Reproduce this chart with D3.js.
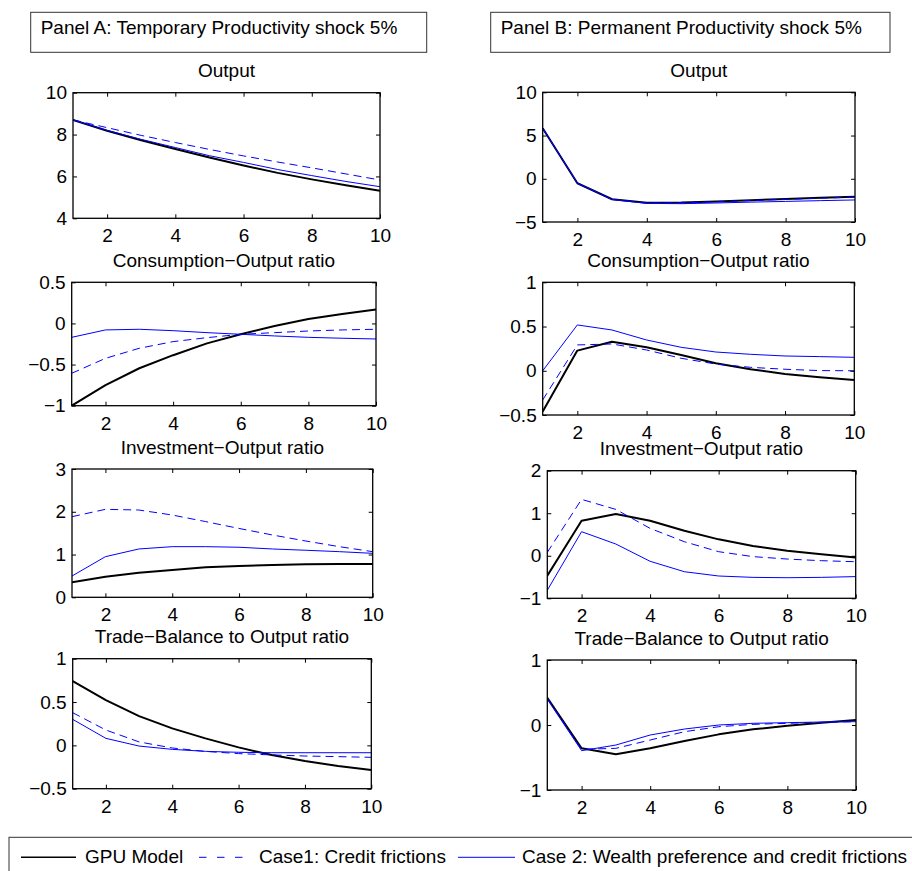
<!DOCTYPE html>
<html><head><meta charset="utf-8">
<script src="https://cdn.jsdelivr.net/npm/d3@7"></script>
<style>
body{margin:0;background:#fff}
svg text{font-family:"Liberation Sans",Arial,Helvetica,sans-serif;font-size:19px;fill:#000}
</style>
</head><body><svg id="c" width="912" height="871"></svg>
<script>
// ---------------- DATA ----------------
const periods = [1, 2, 3, 4, 5, 6, 7, 8, 9, 10];
const xTicks = [2, 4, 6, 8, 10];
const seriesNames = ["GPU Model", "Case1: Credit frictions", "Case 2: Wealth preference and credit frictions"];
const panelTitles = ["Panel A: Temporary Productivity shock 5%", "Panel B: Permanent Productivity shock 5%"];
const variableTitles = ["Output", "Consumption\u2212Output ratio", "Investment\u2212Output ratio", "Trade\u2212Balance to Output ratio"];

// Panel A: temporary shock
const tempOutputGPU   = [8.70, 8.18, 7.73, 7.31, 6.90, 6.52, 6.17, 5.86, 5.58, 5.32];
const tempOutputCase1 = [8.70, 8.33, 7.96, 7.62, 7.29, 6.98, 6.69, 6.41, 6.12, 5.83];
const tempOutputCase2 = [8.70, 8.20, 7.77, 7.38, 6.99, 6.67, 6.33, 6.04, 5.76, 5.51];

const tempConsGPU   = [-1.00, -0.75, -0.545, -0.386, -0.242, -0.132, -0.031, 0.054, 0.115, 0.168];
const tempConsCase1 = [-0.606, -0.424, -0.302, -0.221, -0.173, -0.132, -0.112, -0.092, -0.079, -0.071];
const tempConsCase2 = [-0.169, -0.079, -0.071, -0.088, -0.112, -0.132, -0.152, -0.169, -0.180, -0.189];

const tempInvGPU   = [0.35, 0.48, 0.575, 0.64, 0.70, 0.73, 0.755, 0.77, 0.78, 0.78];
const tempInvCase1 = [1.885, 2.057, 2.041, 1.924, 1.77, 1.61, 1.457, 1.316, 1.184, 1.067];
const tempInvCase2 = [0.498, 0.95, 1.13, 1.184, 1.184, 1.17, 1.13, 1.10, 1.067, 1.028];

const tempTBGPU   = [0.742, 0.523, 0.338, 0.196, 0.081, -0.023, -0.112, -0.181, -0.238, -0.285];
const tempTBCase1 = [0.377, 0.177, 0.04, -0.03, -0.07, -0.095, -0.11, -0.123, -0.13, -0.138];
const tempTBCase2 = [0.30, 0.081, -0.008, -0.046, -0.069, -0.08, -0.085, -0.085, -0.085, -0.085];

// Panel B: permanent shock
const permOutputGPU   = [5.85, -0.52, -2.37, -2.78, -2.75, -2.62, -2.48, -2.33, -2.20, -2.07];
const permOutputCase1 = [5.85, -0.52, -2.38, -2.80, -2.78, -2.66, -2.52, -2.38, -2.25, -2.12];
const permOutputCase2 = [5.85, -0.52, -2.40, -2.85, -2.88, -2.80, -2.70, -2.62, -2.53, -2.45];

const permConsGPU   = [-0.46, 0.228, 0.329, 0.265, 0.179, 0.084, 0.017, -0.036, -0.074, -0.104];
const permConsCase1 = [-0.33, 0.292, 0.303, 0.235, 0.141, 0.076, 0.039, 0.017, 0.002, 0.0];
const permConsCase2 = [0.0, 0.518, 0.461, 0.348, 0.265, 0.212, 0.186, 0.167, 0.160, 0.152];

const permInvGPU   = [-0.47, 0.825, 0.98, 0.825, 0.59, 0.386, 0.23, 0.12, 0.033, -0.04];
const permInvCase1 = [0.08, 1.326, 1.09, 0.644, 0.33, 0.096, -0.02, -0.077, -0.116, -0.14];
const permInvCase2 = [-0.81, 0.566, 0.276, -0.13, -0.375, -0.476, -0.508, -0.516, -0.508, -0.49];

const permTBGPU   = [0.42, -0.359, -0.451, -0.359, -0.246, -0.144, -0.067, -0.01, 0.036, 0.077];
const permTBCase1 = [0.41, -0.374, -0.359, -0.231, -0.103, -0.026, 0.01, 0.026, 0.041, 0.051];
const permTBCase2 = [0.395, -0.395, -0.308, -0.154, -0.062, 0.0, 0.026, 0.036, 0.046, 0.051];

// y-axis tick values
const yTicksTempOutput = [4, 6, 8, 10];
const yTicksTempCons   = [-1, -0.5, 0, 0.5];
const yTicksTempInv    = [0, 1, 2, 3];
const yTicksTempTB     = [-0.5, 0, 0.5, 1];
const yTicksPermOutput = [-5, 0, 5, 10];
const yTicksPermCons   = [-0.5, 0, 0.5, 1];
const yTicksPermInv    = [-1, 0, 1, 2];
const yTicksPermTB     = [-1, 0, 1];

// ---------------- LAYOUT ----------------
const svg = d3.select("#c");
const panels = [
  {box:[73, 380, 92.7, 218.3],   ticks:yTicksTempOutput, title:variableTitles[0], s:[tempOutputGPU, tempOutputCase1, tempOutputCase2]},
  {box:[71.7, 376, 282.3, 405.7], ticks:yTicksTempCons,   title:variableTitles[1], s:[tempConsGPU, tempConsCase1, tempConsCase2]},
  {box:[72, 372.7, 469, 597.3],   ticks:yTicksTempInv,    title:variableTitles[2], s:[tempInvGPU, tempInvCase1, tempInvCase2]},
  {box:[72.7, 371.3, 658.7, 788.7], ticks:yTicksTempTB,   title:variableTitles[3], s:[tempTBGPU, tempTBCase1, tempTBCase2]},
  {box:[542.7, 855, 92.3, 222],   ticks:yTicksPermOutput, title:variableTitles[0], s:[permOutputGPU, permOutputCase1, permOutputCase2]},
  {box:[542.7, 854.3, 282.3, 415], ticks:yTicksPermCons,  title:variableTitles[1], s:[permConsGPU, permConsCase1, permConsCase2]},
  {box:[547.3, 855.7, 470.7, 598.3], ticks:yTicksPermInv, title:variableTitles[2], s:[permInvGPU, permInvCase1, permInvCase2]},
  {box:[547.3, 856, 660, 790],    ticks:yTicksPermTB,     title:variableTitles[3], s:[permTBGPU, permTBCase1, permTBCase2]}
];
const styles = [
  {color:"#000", width:2, dash:null},
  {color:"#0000ff", width:1, dash:"8,5"},
  {color:"#0000ff", width:1, dash:null}
];
const fmt = d3.format("");

function styleAxis(g){
  g.select(".domain").remove();
  g.selectAll("line").attr("stroke","#000").attr("stroke-width",1);
  g.selectAll("text").attr("font-size",null).attr("font-family",null).style("font-size","19px").attr("fill","#000");
  g.attr("font-size",null).attr("font-family",null);
}

panels.forEach((p, idx) => {
  const [x0, x1, y0, y1] = p.box;
  const x = d3.scaleLinear().domain([1, 10]).range([x0, x1]);
  const y = d3.scaleLinear().domain([d3.min(p.ticks), d3.max(p.ticks)]).range([y1, y0]);
  const g = svg.append("g");
  const cid = "clip" + idx;
  g.append("clipPath").attr("id", cid).append("rect")
    .attr("x", x0).attr("y", y0).attr("width", x1 - x0).attr("height", y1 - y0);

  // lines
  const line = d3.line().x((d, i) => x(periods[i])).y(d => y(d));
  p.s.forEach((vals, k) => {
    const st = styles[k];
    g.append("path").attr("clip-path", `url(#${cid})`)
      .attr("d", line(vals)).attr("fill", "none")
      .attr("stroke", st.color).attr("stroke-width", st.width)
      .attr("stroke-dasharray", st.dash).attr("stroke-linejoin","round");
  });

  // axes
  g.append("g").attr("transform", `translate(0,${y1})`)
    .call(d3.axisBottom(x).tickValues(xTicks).tickFormat(fmt).tickSizeInner(-4).tickSizeOuter(0).tickPadding(10.5))
    .call(styleAxis);
  g.append("g").attr("transform", `translate(0,${y0})`)
    .call(d3.axisTop(x).tickValues(xTicks).tickFormat("").tickSizeInner(-4).tickSizeOuter(0))
    .call(styleAxis);
  g.append("g").attr("transform", `translate(${x0},0)`)
    .call(d3.axisLeft(y).tickValues(p.ticks).tickFormat(fmt).tickSizeInner(-4).tickSizeOuter(0).tickPadding(6))
    .call(styleAxis);
  g.append("g").attr("transform", `translate(${x1},0)`)
    .call(d3.axisRight(y).tickValues(p.ticks).tickFormat("").tickSizeInner(-4).tickSizeOuter(0))
    .call(styleAxis);

  g.append("rect").attr("x", x0).attr("y", y0).attr("width", x1 - x0).attr("height", y1 - y0)
    .attr("fill", "none").attr("stroke", "#000").attr("stroke-width", 1.3);

  g.append("text").attr("x", (x0 + x1) / 2).attr("y", y0 - 15.5)
    .attr("text-anchor", "middle").text(p.title);
});

// panel header boxes
const headers = [
  {rect:[30.7, 12.3, 426.7, 52.3], tx:40.7, ty:34.3, text:panelTitles[0]},
  {rect:[490.7, 12.3, 890, 52.3], tx:500.7, ty:34.3, text:panelTitles[1]}
];
headers.forEach(h => {
  svg.append("rect").attr("x", h.rect[0]).attr("y", h.rect[1])
    .attr("width", h.rect[2] - h.rect[0]).attr("height", h.rect[3] - h.rect[1])
    .attr("fill", "#fff").attr("stroke", "#333").attr("stroke-width", 1);
  svg.append("text").attr("x", h.tx).attr("y", h.ty).text(h.text);
});

// legend
const lg = svg.append("g");
lg.append("rect").attr("x", 9).attr("y", 837.3).attr("width", 920).attr("height", 40)
  .attr("fill", "#fff").attr("stroke", "#333").attr("stroke-width", 1);
const legendItems = [
  {l0:21, l1:76, tx:85},
  {l0:199, l1:243, tx:259},
  {l0:458, l1:515, tx:522}
];
legendItems.forEach((it, k) => {
  const st = styles[k];
  lg.append("line").attr("x1", it.l0).attr("x2", it.l1).attr("y1", 857.3).attr("y2", 857.3)
    .attr("stroke", st.color).attr("stroke-width", k === 0 ? 1.5 : 1)
    .attr("stroke-dasharray", k === 1 ? "7.5,10.5" : null);
  lg.append("text").attr("x", it.tx).attr("y", 862.5).text(seriesNames[k]);
});
</script>
</body></html>
